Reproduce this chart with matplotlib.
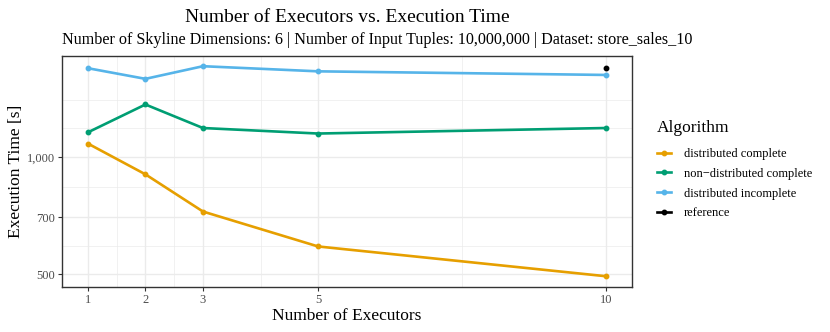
import matplotlib
matplotlib.use("Agg")
import matplotlib.pyplot as plt
from matplotlib.ticker import FixedLocator, FuncFormatter, NullFormatter
import numpy as np

plt.rcParams['font.family'] = ['Liberation Serif', 'DejaVu Serif']

# data
executors = [1, 2, 3, 5, 10]
dist_complete = [1082, 902, 724, 589, 494]
nondist_complete = [1156, 1363, 1186, 1148, 1186]
dist_incomplete = [1689, 1586, 1709, 1658, 1623]
reference_x = [10]
reference_y = [1695]

series = [
    ("distributed complete", executors, dist_complete, "#E69F00"),
    ("non\u2212distributed complete", executors, nondist_complete, "#009E73"),
    ("distributed incomplete", executors, dist_incomplete, "#56B4E9"),
    ("reference", reference_x, reference_y, "black"),
]

y_breaks = [500, 700, 1000]
x_breaks = [1, 2, 3, 5, 10]

fig = plt.figure(figsize=(8.3, 3.32), dpi=100)
ax = fig.add_axes([0.0747, 0.1364, 0.761 - 0.0747, 0.8322 - 0.1364])

for name, xs, ys, col in series:
    if len(xs) > 1:
        ax.plot(xs, ys, color=col, lw=1.9, marker='o', ms=3.2, label=name, zorder=3)
    else:
        ax.plot(xs, ys, color=col, lw=0, marker='o', ms=3.2, zorder=3)
        ax.plot([], [], color=col, lw=1.9, marker='o', ms=3.2, label=name)

ax.set_yscale('log')
ax.margins(x=0.05, y=0.05)

# major / minor breaks like ggplot
ax.xaxis.set_major_locator(FixedLocator(x_breaks))
xb = np.array(x_breaks, dtype=float)
ax.xaxis.set_minor_locator(FixedLocator(list((xb[:-1] + xb[1:]) / 2)))
ax.yaxis.set_major_locator(FixedLocator(y_breaks))
lb = np.log(y_breaks)
step = lb[1] - lb[0]
ext = np.append(lb, lb[-1] + step)
minors = list(np.exp((ext[:-1] + ext[1:]) / 2)) + [np.exp(ext[-1])]
ax.yaxis.set_minor_locator(FixedLocator(minors))
ax.yaxis.set_major_formatter(FuncFormatter(lambda v, p: f"{int(round(v)):,}"))
ax.yaxis.set_minor_formatter(NullFormatter())
ax.xaxis.set_minor_formatter(NullFormatter())

ax.grid(True, which='major', color='#EBEBEB', lw=1.0, zorder=0)
ax.grid(True, which='minor', color='#EBEBEB', lw=0.5, zorder=0)
ax.set_axisbelow(True)
for s in ax.spines.values():
    s.set_color('#333333')
    s.set_linewidth(1.0)
ax.tick_params(which='major', length=3, width=0.8, color='#333333',
               labelsize=9, labelcolor='#4D4D4D', pad=2)
ax.tick_params(which='minor', length=0)

ax.set_xlabel("Number of Executors", fontsize=12.5, labelpad=2)
ax.set_ylabel("Execution Time [s]", fontsize=12.5, labelpad=2)

fig.text(0.418, 0.948, "Number of Executors vs. Execution Time", ha='center',
         va='center', fontsize=14)
fig.text(0.0747, 0.88, "Number of Skyline Dimensions: 6 | Number of Input Tuples: 10,000,000 | Dataset: store_sales_10",
         ha='left', va='center', fontsize=11.65)

fig.text(657 / 830, 1 - 128 / 332, "Algorithm", ha='left', va='center', fontsize=12.5)
leg = ax.legend(loc='upper left', bbox_to_anchor=(647 / 830, 1 - 138 / 332),
                bbox_transform=fig.transFigure, frameon=False,
                fontsize=9, handlelength=1.15, handletextpad=1.0,
                labelspacing=0.62, borderpad=0.3)

fig.savefig("out.png", dpi=100)
